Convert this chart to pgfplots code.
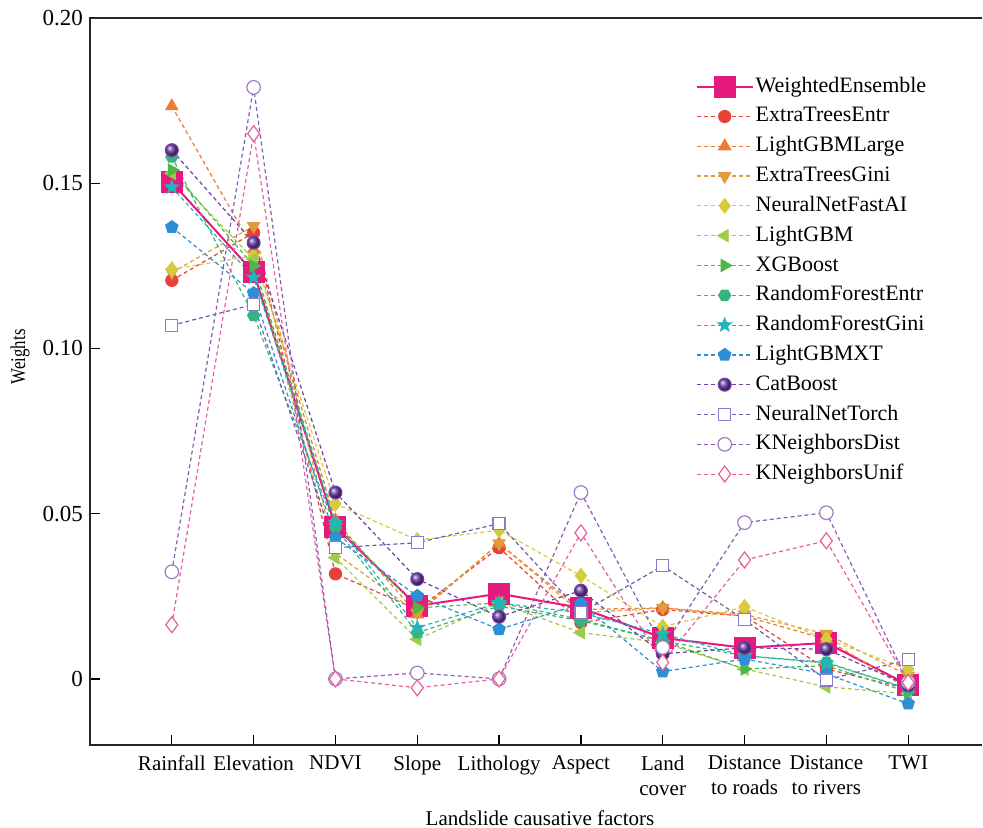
\documentclass[border=0pt]{standalone}
\usepackage{fontspec}
\setmainfont{Liberation Serif}
\usepackage{graphicx}
\usepackage{pgfplots}
\pgfplotsset{compat=1.18}
\usepackage{pgfplotstable}

\definecolor{cWE}{HTML}{E5197E}
\definecolor{cETE}{HTML}{E8413A}
\definecolor{cLGL}{HTML}{EE7B30}
\definecolor{cETG}{HTML}{E09B3A}
\definecolor{cNNF}{HTML}{D6CB3C}
\definecolor{cLGB}{HTML}{9CCC4A}
\definecolor{cXGB}{HTML}{4DB848}
\definecolor{cRFE}{HTML}{35B57E}
\definecolor{cRFG}{HTML}{22B6BC}
\definecolor{cLXT}{HTML}{2D8FD5}
\definecolor{cCAT}{HTML}{7040A8}
\definecolor{cNNT}{HTML}{6A5CB0}
\definecolor{cNNTm}{HTML}{8A7CC8}
\definecolor{cKND}{HTML}{8A5BB0}
\definecolor{cKNDm}{HTML}{A07CC0}
\definecolor{cKNU}{HTML}{E6609A}

\pgfdeclareplotmark{hexagon*}{%
  \pgfpathmoveto{\pgfpointpolar{0}{\pgfplotmarksize}}%
  \pgfpathlineto{\pgfpointpolar{60}{\pgfplotmarksize}}%
  \pgfpathlineto{\pgfpointpolar{120}{\pgfplotmarksize}}%
  \pgfpathlineto{\pgfpointpolar{180}{\pgfplotmarksize}}%
  \pgfpathlineto{\pgfpointpolar{240}{\pgfplotmarksize}}%
  \pgfpathlineto{\pgfpointpolar{300}{\pgfplotmarksize}}%
  \pgfpathclose\pgfusepathqfillstroke}
\pgfdeclareplotmark{fstar}{%
  \pgfpathmoveto{\pgfpointpolar{90}{\pgfplotmarksize}}%
  \pgfpathlineto{\pgfpointpolar{126}{0.42\pgfplotmarksize}}%
  \pgfpathlineto{\pgfpointpolar{162}{\pgfplotmarksize}}%
  \pgfpathlineto{\pgfpointpolar{198}{0.42\pgfplotmarksize}}%
  \pgfpathlineto{\pgfpointpolar{234}{\pgfplotmarksize}}%
  \pgfpathlineto{\pgfpointpolar{270}{0.42\pgfplotmarksize}}%
  \pgfpathlineto{\pgfpointpolar{306}{\pgfplotmarksize}}%
  \pgfpathlineto{\pgfpointpolar{342}{0.42\pgfplotmarksize}}%
  \pgfpathlineto{\pgfpointpolar{18}{\pgfplotmarksize}}%
  \pgfpathlineto{\pgfpointpolar{54}{0.42\pgfplotmarksize}}%
  \pgfpathclose\pgfusepathqfillstroke}

\pgfplotstableread{
x  WE      ETE     LGL     ETG     NNF     LGB     XGB     RFE     RFG     LXT     CAT     NNT     KND     KNU
0  0.1503  0.1206  0.1733  0.1230  0.1240  0.1530  0.1540  0.1580  0.1488  0.1367  0.1600  0.1070  0.0324  0.0164
1  0.1230  0.1350  0.1300  0.1370  0.1280  0.1270  0.1250  0.1100  0.1215  0.1167  0.1320  0.1133  0.1790  0.1650
2  0.0460  0.0318  0.0480  0.0380  0.0530  0.0367  0.0470  0.0458  0.0473  0.0427  0.0564  0.0397  0.0000  0.0000
3  0.0221  0.0210  0.0195  0.0200  0.0420  0.0120  0.0215  0.0140  0.0155  0.0251  0.0302  0.0412  0.0018  -0.0027
4  0.0258  0.0397  0.0410  0.0410  0.0450  0.0230  0.0230  0.0220  0.0230  0.0150  0.0188  0.0470  0.0000  0.0000
5  0.0215  0.0170  0.0210  0.0200  0.0312  0.0140  0.0180  0.0176  0.0200  0.0227  0.0267  0.0200  0.0564  0.0442
6  0.0124  0.0210  0.0215  0.0215  0.0158  0.0110  0.0115  0.0115  0.0136  0.0022  0.0076  0.0342  0.0095  0.0050
7  0.0094  0.0190  0.0190  0.0195  0.0218  0.0030  0.0030  0.0070  0.0070  0.0060  0.0094  0.0179  0.0473  0.0360
8  0.0109  0.0030  0.0120  0.0136  0.0120  -0.0024 0.0040  0.0050  0.0048  0.0015  0.0090  -0.0003 0.0503  0.0418
9  -0.0018 -0.0030 -0.0030 0.0010  0.0030  -0.0045 -0.0040 -0.0030 -0.0030 -0.0075 -0.0020 0.0058  -0.0010 -0.0011
}\data

\begin{document}
\begin{tikzpicture}
\begin{axis}[
  scale only axis, width=450pt, height=363.5pt,
  xmin=-1, xmax=10, ymin=-0.02, ymax=0.20,
  axis line style={draw=none},
  xtick={0,...,9},
  xticklabels={Rainfall,Elevation,NDVI,Slope,Lithology,Aspect,Land\\cover,Distance\\to roads,Distance\\to rivers,TWI},
  xticklabel style={align=center, font=\fontsize{10.5}{12.3}\selectfont, yshift=-2pt},
  ytick={0,0.05,0.10,0.15,0.20},
  yticklabels={0,0.05,0.10,0.15,0.20},
  yticklabel style={font=\fontsize{11.5}{13}\selectfont},
  tick align=inside, major tick length=5pt,
  xtick pos=bottom, ytick pos=left,
  tick style={line width=0.6pt, black},
  xlabel={Landslide causative factors},
  xlabel style={font=\fontsize{10.5}{12}\selectfont, at={(axis description cs:0.5,0)}, anchor=center, yshift=-36.5pt},
  ylabel={\scalebox{0.8}[1]{Weights}},
  ylabel style={font=\fontsize{10.5}{12}\selectfont, at={(axis description cs:0,0.534)}, anchor=center, yshift=35pt},
  legend style={at={(axis description cs:0.657,0.937)}, anchor=north west,
    draw=none, fill=white, inner xsep=7pt, inner ysep=5pt,
    font=\fontsize{11}{13}\selectfont, row sep=2.4pt,
    nodes={inner sep=1pt, text height=8pt, text depth=2.5pt}},
  legend cell align=left,
  legend image code/.code={\draw[mark repeat=2,mark phase=2,#1] plot coordinates {(0pt,0pt)(14pt,0pt)(28pt,0pt)};},
  every axis plot/.append style={line width=0.6pt, dash pattern=on 2pt off 1.5pt},
]
\coordinate (sw) at (rel axis cs:0,0);
\coordinate (ne) at (rel axis cs:1,1);
\addplot[color=cWE, solid, line width=1pt, mark=square*, mark size=5pt, mark options={solid, fill=cWE}] table[x=x,y=WE] {\data};
\addlegendentry{WeightedEnsemble}
\addplot[color=cETE, mark=*, mark size=3pt, mark options={solid, fill=cETE}] table[x=x,y=ETE] {\data};
\addlegendentry{ExtraTreesEntr}
\addplot[color=cLGL, mark=triangle*, mark size=3.4pt, mark options={solid, fill=cLGL}] table[x=x,y=LGL] {\data};
\addlegendentry{LightGBMLarge}
\addplot[color=cETG, mark=triangle*, mark size=3.4pt, mark options={solid, fill=cETG, rotate=180}] table[x=x,y=ETG] {\data};
\addlegendentry{ExtraTreesGini}
\addplot[color=cNNF, mark=diamond*, mark size=3.6pt, mark options={solid, fill=cNNF}] table[x=x,y=NNF] {\data};
\addlegendentry{NeuralNetFastAI}
\addplot[color=cLGB, mark=triangle*, mark size=3.4pt, mark options={solid, fill=cLGB, rotate=90}] table[x=x,y=LGB] {\data};
\addlegendentry{LightGBM}
\addplot[color=cXGB, mark=triangle*, mark size=3.4pt, mark options={solid, fill=cXGB, rotate=-90}] table[x=x,y=XGB] {\data};
\addlegendentry{XGBoost}
\addplot[color=cRFE, mark=hexagon*, mark size=3pt, mark options={solid, fill=cRFE}] table[x=x,y=RFE] {\data};
\addlegendentry{RandomForestEntr}
\addplot[color=cRFG, mark=fstar, mark size=3.4pt, mark options={solid, fill=cRFG}] table[x=x,y=RFG] {\data};
\addlegendentry{RandomForestGini}
\addplot[color=cLXT, mark=pentagon*, mark size=3.2pt, mark options={solid, fill=cLXT}] table[x=x,y=LXT] {\data};
\addlegendentry{LightGBMXT}
\addplot[color=cCAT, mark=ball, mark size=3.2pt, mark options={solid, ball color=cCAT}] table[x=x,y=CAT] {\data};
\addlegendentry{CatBoost}
\addplot[color=cNNT, mark=square*, mark size=3pt, mark options={solid, draw=cNNTm, fill=white, line width=0.6pt}] table[x=x,y=NNT] {\data};
\addlegendentry{NeuralNetTorch}
\addplot[color=cKND, mark=*, mark size=3.4pt, mark options={solid, draw=cKNDm, fill=white, line width=0.6pt}] table[x=x,y=KND] {\data};
\addlegendentry{KNeighborsDist}
\addplot[color=cKNU, mark=diamond*, mark size=4pt, mark options={solid, draw=cKNU, fill=white, line width=0.6pt}] table[x=x,y=KNU] {\data};
\addlegendentry{KNeighborsUnif}
\end{axis}
\draw[line width=0.75pt, black!85] ([xshift=-4pt]ne) -- (sw |- ne) -- (sw) -- ([xshift=-4pt]sw -| ne);
\pgfresetboundingbox
\path[use as bounding box] ([shift={(-45pt,-41.5pt)}]sw) rectangle ([shift={(-3.5pt,9pt)}]ne);
\end{tikzpicture}
\end{document}
